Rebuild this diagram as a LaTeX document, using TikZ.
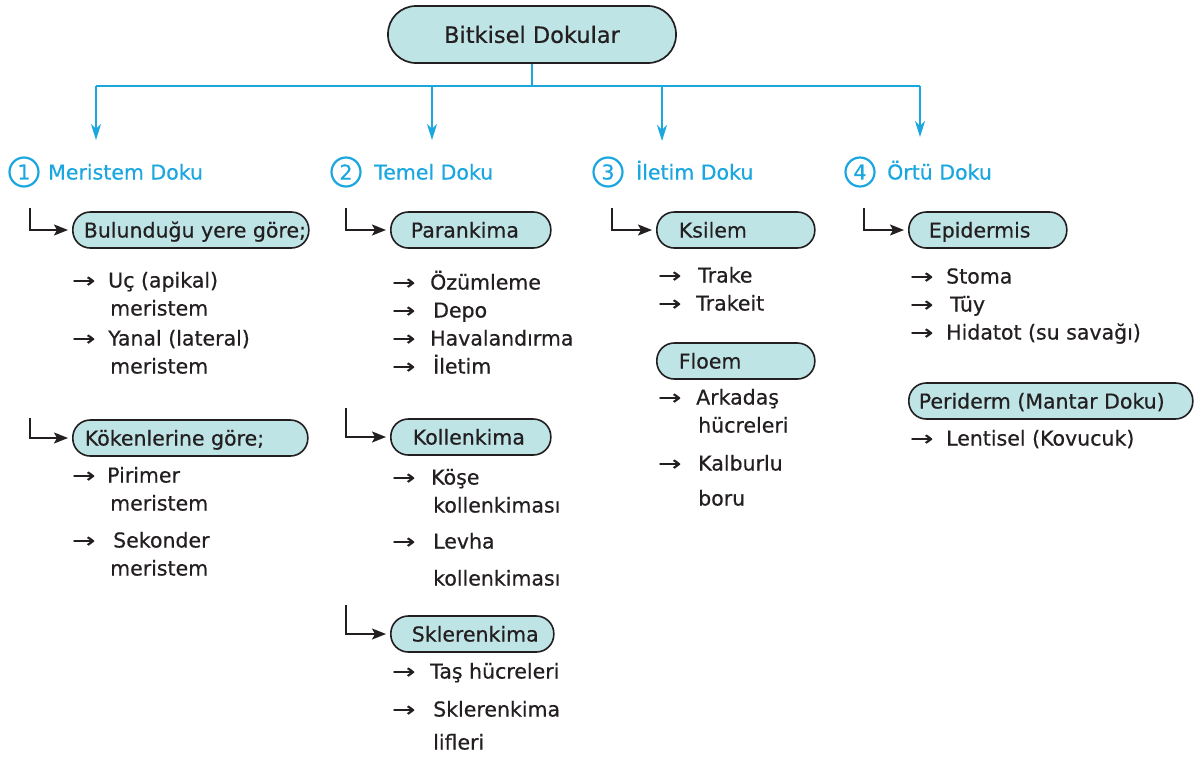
\documentclass[tikz,border=0pt]{standalone}
\usepackage{fontspec}
\setmainfont{DejaVu Sans}[BoldFont={DejaVu Sans},BoldFeatures={FakeBold=0.5}]
\usetikzlibrary{arrows.meta}
\definecolor{cyanb}{HTML}{1AA7E0}
\definecolor{boxfill}{HTML}{BEE4E6}
\definecolor{ink}{HTML}{231F20}
\newcommand\arr{\scalebox{1.35}[1]{→}}
\newcommand\bxt[3]{\makebox[#1pt][l]{\hspace*{#2pt}#3}}
\newcommand\itm[5]{\node[itm] (#1) at (#2,#3) {\makebox[#4pt][l]{\arr}#5};}
\begin{document}
\begin{tikzpicture}[x=1pt,y=-1pt,font=\fontsize{20.5}{24}\selectfont\bfseries,text=ink,
  box/.style={draw=ink, fill=boxfill, line width=1.6pt, rounded corners=17.5pt, minimum height=36pt, inner xsep=0pt, inner ysep=0pt, anchor=west, text height=18pt, text depth=3pt},
  itm/.style={anchor=west, inner sep=0pt, text height=18pt, text depth=3pt},
  hd/.style={anchor=west, inner sep=0pt, text=cyanb, text height=18pt, text depth=3pt},
  num/.style={circle, draw=cyanb, line width=2.2pt, minimum size=29pt, inner sep=0pt, text=cyanb},
  bl/.style={draw=cyanb, line width=1.8pt},
  barr/.style={bl, -{Stealth[length=16pt,width=10pt,inset=5pt]}},
  elb/.style={draw=ink, line width=1.5pt, -{Stealth[length=14pt,width=11pt,inset=3pt]}, shorten >=4pt}]
\fill[white] (0,0) rectangle (1198,756);
\path[use as bounding box] (0,0) rectangle (1198,756);

% top node
\node[draw=ink, fill=boxfill, line width=1.7pt, rounded corners=28pt, minimum width=288pt, minimum height=57pt, font=\fontsize{22.5}{26}\selectfont\bfseries] (top) at (532,34.5) {Bitkisel Dokular};

% blue distribution
\coordinate (h1) at (96,86);
\coordinate (h2) at (432,86);
\coordinate (h3) at (662,86);
\coordinate (h4) at (920,86);
\coordinate (a1) at (96,140);
\coordinate (a2) at (432,140);
\coordinate (a3) at (662,141);
\coordinate (a4) at (920,137);
\draw[bl] (top.south) -- (top.south |- h1);
\draw[bl, line width=2.4pt] (h1) -- (h4);
\draw[barr] (h1) -- (a1);
\draw[barr] (h2) -- (a2);
\draw[barr] (h3) -- (a3);
\draw[barr] (h4) -- (a4);

% headings
\node[num] (n1) at (24,172) {1};
\node[hd] (t1) at (48,172) {Meristem Doku};
\node[num] (n2) at (346,172) {2};
\node[hd] (t2) at (374,172) {Temel Doku};
\node[num] (n3) at (608,172) {3};
\node[hd] (t3) at (636,172) {İletim Doku};
\node[num] (n4) at (860,172) {4};
\node[hd] (t4) at (887,172) {Örtü Doku};

% boxes
\node[box] (b1) at (72,230) {\bxt{236}{11}{Bulunduğu yere göre;}};
\node[box] (b2) at (72,438) {\bxt{235}{12}{Kökenlerine göre;}};
\node[box] (c1) at (390,230) {\bxt{160}{20}{Parankima}};
\node[box] (c2) at (390,437) {\bxt{160}{22}{Kollenkima}};
\node[box] (c3) at (390,634) {\bxt{163}{21}{Sklerenkima}};
\node[box] (d1) at (656,230) {\bxt{158}{22}{Ksilem}};
\node[box] (d2) at (656,361) {\bxt{158}{22}{Floem}};
\node[box] (e1) at (908,230) {\bxt{158}{20}{Epidermis}};
\node[box] (e2) at (908,401) {\bxt{284}{10}{Periderm (Mantar Doku)}};

% elbow arrows
\coordinate (s1) at (30,208);
\coordinate (s2) at (30,418);
\coordinate (s3) at (346,208);
\coordinate (s4) at (346,408);
\coordinate (s5) at (346,605);
\coordinate (s6) at (612,208);
\coordinate (s7) at (864,208);
\draw[elb] (s1) |- (b1.west);
\draw[elb] (s2) |- (b2.west);
\draw[elb] (s3) |- (c1.west);
\draw[elb] (s4) |- (c2.west);
\draw[elb] (s5) |- (c3.west);
\draw[elb] (s6) |- (d1.west);
\draw[elb] (s7) |- (e1.west);

% column 1 items
\itm{i11}{72}{280}{36}{Uç (apikal)}
\node[itm] (i12) at (110,308) {meristem};
\itm{i13}{72}{338}{36}{Yanal (lateral)}
\node[itm] (i14) at (110,366) {meristem};
\itm{i15}{72}{475}{35}{Pirimer}
\node[itm] (i16) at (110,503) {meristem};
\itm{i17}{72}{540}{41}{Sekonder}
\node[itm] (i18) at (110,568) {meristem};

% column 2 items
\itm{i21}{392}{282}{38}{Özümleme}
\itm{i22}{392}{310}{41}{Depo}
\itm{i23}{392}{338}{38}{Havalandırma}
\itm{i24}{392}{366}{41}{İletim}
\itm{i25}{392}{477}{39}{Köşe}
\node[itm] (i26) at (433,505) {kollenkiması};
\itm{i27}{392}{541}{41}{Levha}
\node[itm] (i28) at (433,578) {kollenkiması};
\itm{i29}{392}{671}{38}{Taş hücreleri}
\itm{i2a}{392}{709}{41}{Sklerenkima}
\node[itm] (i2b) at (433,742) {lifleri};

% column 3 items
\itm{i31}{658}{275}{40}{Trake}
\itm{i32}{658}{303}{38}{Trakeit}
\itm{i33}{658}{397}{38}{Arkadaş}
\node[itm] (i34) at (698,425) {hücreleri};
\itm{i35}{658}{463}{40}{Kalburlu}
\node[itm] (i36) at (698,498) {boru};

% column 4 items
\itm{i41}{910}{276}{36}{Stoma}
\itm{i42}{910}{304}{40}{Tüy}
\itm{i43}{910}{332}{36}{Hidatot (su savağı)}
\itm{i44}{910}{438}{36}{Lentisel (Kovucuk)}
\end{tikzpicture}
\end{document}
